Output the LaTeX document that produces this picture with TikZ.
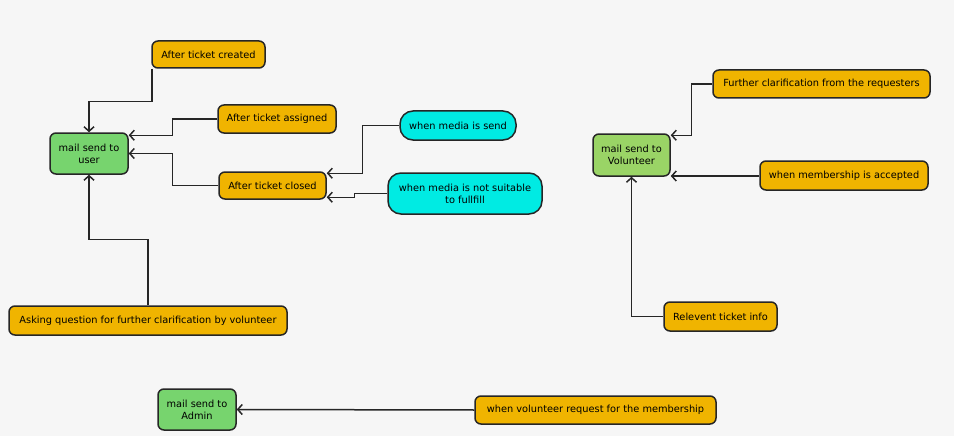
\documentclass[tikz,border=0pt]{standalone}
\usepackage{fontspec}
\setmainfont{DejaVu Sans}
\usetikzlibrary{arrows.meta}
\definecolor{bg}{HTML}{F6F6F6}
\definecolor{orangebox}{HTML}{F0B400}
\definecolor{greenbox}{HTML}{77D46E}
\definecolor{limebox}{HTML}{9AD466}
\definecolor{cyanbox}{HTML}{00EBE3}
\tikzset{
  box/.style={draw=black!85, line width=1.5pt, rounded corners=6pt, inner sep=0pt, align=center,
    font=\fontsize{9.8}{12}\selectfont},
  evt/.style={box, fill=orangebox},
  mail/.style={box, fill=greenbox},
  media/.style={box, fill=cyanbox, rounded corners=13pt},
  conn/.style={draw=black!85, line width=1.5pt, -{Straight Barb[length=4.5pt,width=10pt,line width=1.5pt]}},
}
\begin{document}
\begin{tikzpicture}[x=1pt,y=-1pt]
\path[fill=bg,use as bounding box] (0,0) rectangle (954,436);

\node[mail, minimum width=78pt, minimum height=41pt] (user) at (89,153.5) {mail send to\\user};
\node[evt, minimum width=113pt, minimum height=27pt] (created) at (208.5,54.5) {After ticket created};
\node[evt, minimum width=118pt, minimum height=28pt] (assigned) at (277,119) {After ticket assigned};
\node[evt, minimum width=107pt, minimum height=27pt] (closed) at (272.5,185.5) {After ticket closed};
\node[media, minimum width=116pt, minimum height=29pt] (msend) at (458,125.5) {when media is send};
\node[media, minimum width=154pt, minimum height=41pt] (mnot) at (465,193.5) {when media is not suitable\\to fullfill};
\node[evt, minimum width=278pt, minimum height=29pt] (asking) at (148,320.5) {Asking question for further clarification by volunteer};

\node[mail, fill=limebox, minimum width=77pt, minimum height=42pt] (vol) at (631.5,155) {mail send to\\Volunteer};
\node[evt, minimum width=217pt, minimum height=28pt] (further) at (821.5,84) {Further clarification from the requesters};
\node[evt, minimum width=168pt, minimum height=29pt] (accepted) at (844,175.5) {when membership is accepted};
\node[evt, minimum width=113pt, minimum height=29pt] (relevant) at (720.5,316.5) {Relevent ticket info};

\node[mail, minimum width=78pt, minimum height=41pt] (admin) at (197,409.5) {mail send to\\Admin};
\node[evt, minimum width=241pt, minimum height=28pt] (request) at (595.5,410) {when volunteer request for the membership};

\draw[conn] ([xshift=0.5pt]created.south west) -- ++(0,33) -| (user.north);
\draw[conn] (assigned.west) -- ++(-45,0) |- ([yshift=-3pt]user.north east);
\draw[conn] (closed.west) -- ++(-46,0) |- (user.east);
\draw[conn] (msend.west) -- ++(-37,0) |- ([yshift=-2pt]closed.north east);
\draw[conn] (mnot.west) -- ++(-33,0) |- ([yshift=2.5pt]closed.south east);
\draw[conn] (asking.north) -- ++(0,-66) -| (user.south);

\draw[conn] (further.west) -- ++(-21,0) |- ([yshift=-2pt]vol.north east);
\draw[conn] ([yshift=-0.5pt]accepted.west) -- ([yshift=-0.5pt]accepted.west -| vol.east);
\draw[conn] (relevant.west) -| (vol.south);

\draw[conn] (request.west) -- (admin.east);
\end{tikzpicture}
\end{document}
